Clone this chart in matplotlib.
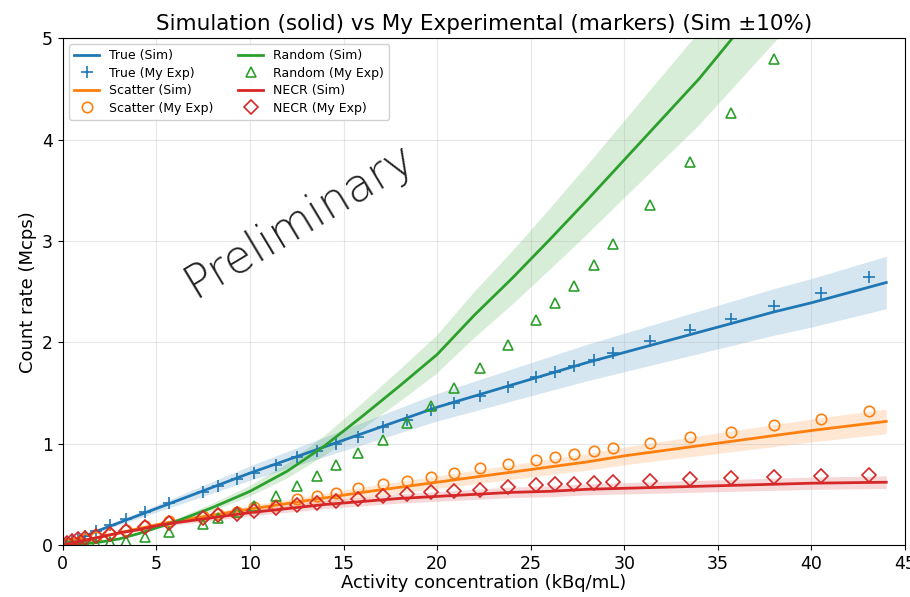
import numpy as np
import matplotlib
matplotlib.use("Agg")
import matplotlib.pyplot as plt

# simulation grid (kBq/mL) and simulated count rates (Mcps)
sim_x = [0, 1, 2, 3, 4, 5, 6, 8, 10, 12, 14, 16, 18, 20, 22, 24, 26, 28, 30, 32, 34, 36, 38, 40, 42, 44]
sim_true = [0, 0.075, 0.15, 0.22, 0.29, 0.36, 0.43, 0.57, 0.71, 0.84, 0.97, 1.10, 1.23, 1.36, 1.47, 1.58,
            1.69, 1.80, 1.90, 2.00, 2.10, 2.20, 2.30, 2.39, 2.49, 2.59]
sim_scatter = [0, 0.04, 0.08, 0.12, 0.16, 0.20, 0.235, 0.295, 0.355, 0.41, 0.465, 0.52, 0.57, 0.62, 0.67,
               0.72, 0.77, 0.82, 0.88, 0.93, 0.98, 1.03, 1.08, 1.13, 1.175, 1.22]
sim_random = [0, 0.01, 0.03, 0.06, 0.11, 0.17, 0.23, 0.37, 0.53, 0.73, 0.98, 1.27, 1.57, 1.88, 2.27, 2.63,
              3.01, 3.40, 3.80, 4.20, 4.60, 5.05, 5.50, 5.95, 6.40, 6.90]
sim_necr = [0, 0.04, 0.08, 0.12, 0.15, 0.19, 0.22, 0.27, 0.32, 0.36, 0.40, 0.43, 0.46, 0.48, 0.50, 0.52,
            0.53, 0.55, 0.56, 0.57, 0.58, 0.59, 0.60, 0.61, 0.615, 0.62]

# my experimental points
exp_x = [0.2, 0.5, 0.8, 1.2, 1.8, 2.5, 3.4, 4.4, 5.7, 7.5, 8.3, 9.3, 10.2, 11.4, 12.5, 13.6, 14.6, 15.8,
         17.1, 18.4, 19.65, 20.9, 22.3, 23.8, 25.3, 26.3, 27.3, 28.4, 29.4, 31.4, 33.5, 35.7, 38.0, 40.5, 43.1]
exp_true = [0.02, 0.04, 0.06, 0.09, 0.14, 0.20, 0.26, 0.33, 0.41, 0.52, 0.58, 0.65, 0.71, 0.79, 0.87, 0.93,
            1.00, 1.07, 1.16, 1.23, 1.33, 1.40, 1.47, 1.56, 1.66, 1.71, 1.77, 1.83, 1.89, 2.01, 2.12, 2.23,
            2.36, 2.49, 2.64]
exp_scatter = [0.01, 0.02, 0.035, 0.055, 0.08, 0.11, 0.15, 0.19, 0.24, 0.29, 0.31, 0.33, 0.38, 0.40, 0.45,
               0.48, 0.51, 0.56, 0.60, 0.63, 0.67, 0.71, 0.76, 0.80, 0.84, 0.87, 0.90, 0.93, 0.96, 1.01, 1.07,
               1.12, 1.18, 1.24, 1.32]
# random points above 5 Mcps (last two activities) are off the chart, so only the first 33
exp_random = [0.0, 0.0, 0.005, 0.01, 0.015, 0.03, 0.04, 0.08, 0.13, 0.21, 0.27, 0.33, 0.39, 0.48, 0.58,
              0.68, 0.79, 0.91, 1.04, 1.20, 1.37, 1.55, 1.75, 1.97, 2.22, 2.39, 2.56, 2.76, 2.97, 3.35, 3.78,
              4.26, 4.79]
exp_random_x = exp_x[:33]
exp_necr = [0.02, 0.04, 0.06, 0.07, 0.09, 0.11, 0.14, 0.18, 0.22, 0.27, 0.30, 0.31, 0.34, 0.37, 0.40, 0.41,
            0.43, 0.45, 0.48, 0.50, 0.52, 0.53, 0.54, 0.57, 0.59, 0.60, 0.60, 0.61, 0.62, 0.63, 0.65, 0.66,
            0.67, 0.68, 0.69]

series = [
    ("True", sim_true, exp_x, exp_true, "C0", "+"),
    ("Scatter", sim_scatter, exp_x, exp_scatter, "C1", "o"),
    ("Random", sim_random, exp_random_x, exp_random, "C2", "^"),
    ("NECR", sim_necr, exp_x, exp_necr, "C3", "D"),
]

fig = plt.figure(figsize=(9.1, 5.97), dpi=100)
ax = fig.add_axes([0.069, 0.087, 0.9255, 0.849])

sx = np.array(sim_x)
handles = {}
for name, sim, ex, ey, col, mk in series:
    s = np.array(sim)
    ax.fill_between(sx, s * 0.9, s * 1.1, color=col, alpha=0.18, linewidth=0)
    ln, = ax.plot(sx, s, color=col, lw=2, label=f"{name} (Sim)")
    if mk == "+":
        pt, = ax.plot(ex, ey, linestyle="none", marker=mk, color=col, ms=8, mew=1.2,
                      label=f"{name} (My Exp)")
    else:
        pt, = ax.plot(ex, ey, linestyle="none", marker=mk, mfc="none", mec=col, ms=7.5 if mk != "D" else 7,
                      mew=1.2, label=f"{name} (My Exp)")
    handles[name] = (ln, pt)

order = [handles["True"][0], handles["True"][1], handles["Scatter"][0], handles["Scatter"][1],
         handles["Random"][0], handles["Random"][1], handles["NECR"][0], handles["NECR"][1]]
ax.legend(handles=order, loc="upper left", ncol=2, fontsize=9, labelspacing=0.35, framealpha=0.9)

ax.set_xlim(0, 45)
ax.set_ylim(0, 5)
ax.grid(True, alpha=0.3)
ax.tick_params(labelsize=12.5)
ax.set_xlabel("Activity concentration (kBq/mL)", fontsize=13, labelpad=1)
ax.set_ylabel("Count rate (Mcps)", fontsize=13)
ax.set_title("Simulation (solid) vs My Experimental (markers) (Sim \u00b110%)", fontsize=15.5)

# watermark
ax.text(0.281, 0.64, "Preliminary", transform=ax.transAxes, rotation=31, fontsize=33,
        fontweight="light", color="#222222", ha="center", va="center", rotation_mode="anchor")

fig.savefig("out.png", dpi=100)
